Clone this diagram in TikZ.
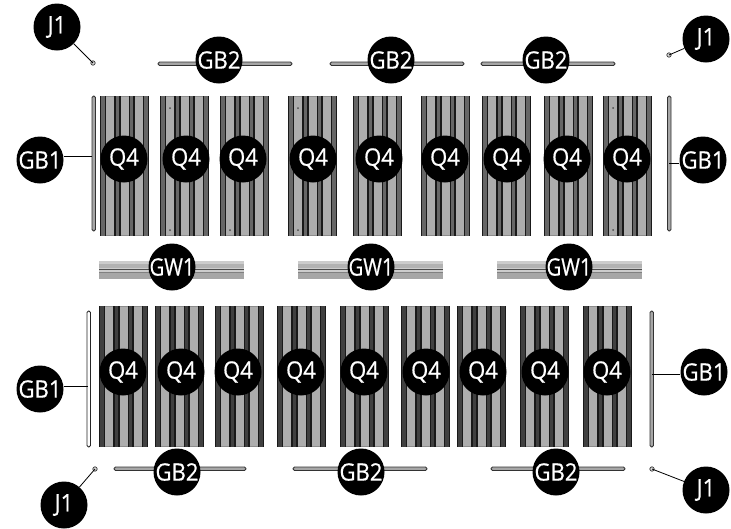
\documentclass[tikz,border=0pt]{standalone}
\usepackage{fontspec}
\newfontfamily\calloutfont{Open Sans}[RawFeature={embolden=0.6},FakeStretch=0.92]
\newfontfamily\railfont{Open Sans}[RawFeature={embolden=0.6},FakeStretch=0.84]
\def\lab#1{\makebox[0pt]{#1}}
\tikzset{
	callout/.style={circle, fill=black, text=white, minimum size=47pt, inner sep=0pt, font=\calloutfont\fontsize{24}{24}\selectfont},
	leader/.style={line width=0.8pt, color=black},
	strip/.style={fill=black!32, draw=none},
	bar/.style={draw=black!80, fill=black!35, line width=0.9pt, rounded corners=1.5pt},
	whitebar/.style={draw=black!85, fill=white, line width=0.9pt, rounded corners=1.5pt},
	screw/.style={draw=black!80, fill=black!15, line width=0.7pt},
}
% one sheet, #1 rib colour, #2 line width, (#3,#4) top left corner, height #5
\def\sheet[#1,#2](#3,#4)(#5){%
	\begin{scope}[shift={(#3,#4)}]
		\fill[black!45] (0, 0) rectangle (49, #5);
		\fill[#1] (15, 0) rectangle (20, #5);
		\fill[#1] (29, 0) rectangle (34, #5);
		\fill[#1] (1, 0) rectangle (6, #5);
		\fill[#1] (43, 0) rectangle (48, #5);
		\fill[strip] (6, 1) rectangle (15, #5-1);
		\fill[strip] (20, 1) rectangle (29, #5-1);
		\fill[strip] (34, 1) rectangle (43, #5-1);
		\foreach \ribx in {0.5, 5.5, 15, 20, 29.5, 34, 43.5, 48.5}
			\draw[black!90, line width=#2] (\ribx, 0) -- (\ribx, #5);
	\end{scope}
}
\begin{document}
\begin{tikzpicture}[x=1pt, y=-1pt]
		%%%%% frame %%%%%
		\useasboundingbox (0, 0) rectangle (731, 528);
		
		%%%%% top sheets %%%%%
		\sheet[black!60,1.3pt](100,96)(140);
		\sheet[black!60,1.3pt](160,96)(140);
		\sheet[black!60,1.3pt](220,96)(140);
		\sheet[black!60,1.3pt](288,96)(140);
		\sheet[black!60,1.3pt](353,96)(140);
		\sheet[black!60,1.3pt](421,96)(140);
		\sheet[black!60,1.3pt](482,96)(140);
		\sheet[black!60,1.3pt](544,96)(140);
		\sheet[black!60,1.3pt](603,96)(140);
		
		%%%%% bottom sheets %%%%%
		\sheet[black!75,1.6pt](99,306)(141);
		\sheet[black!75,1.6pt](155,306)(141);
		\sheet[black!75,1.6pt](215,306)(141);
		\sheet[black!75,1.6pt](277,306)(141);
		\sheet[black!75,1.6pt](340,306)(141);
		\sheet[black!75,1.6pt](401,306)(141);
		\sheet[black!75,1.6pt](457,306)(141);
		\sheet[black!75,1.6pt](520,306)(141);
		\sheet[black!75,1.6pt](583,306)(141);
		
		%%%%% small holes %%%%%
		\fill[black!70] (170, 108) circle (1);
		\fill[black!70] (170, 230) circle (1);
		\fill[black!70] (230, 230) circle (1);
		\fill[black!70] (298, 108) circle (1);
		\fill[black!70] (298, 230) circle (1);
		\fill[black!70] (613, 108) circle (1);
		\fill[black!70] (613, 230) circle (1);
		
		%%%%% GW1 rails %%%%%
		\foreach \railx in {99, 298, 497} {
			\fill[black!20] (\railx, 261) rectangle (\railx+145, 279);
			\fill[black!30] (\railx, 264) rectangle (\railx+145, 268);
			\fill[black!35] (\railx, 273) rectangle (\railx+145, 279);
			\draw[black!70, line width=0.8pt] (\railx, 269) -- (\railx+145, 269);
			\draw[black!50, line width=0.6pt] (\railx, 272.5) -- (\railx+145, 272.5);
		}
		
		%%%%% GB2 bars %%%%%
		\draw[bar] (158, 62) rectangle (292, 65.5);
		\draw[bar] (330, 62) rectangle (464, 65.5);
		\draw[bar] (481, 62) rectangle (615, 65.5);
		\draw[bar] (114, 467) rectangle (246, 470.5);
		\draw[bar] (293, 467) rectangle (427, 470.5);
		\draw[bar] (491, 467) rectangle (625, 470.5);
		
		%%%%% GB1 bars %%%%%
		\draw[bar] (92, 96) rectangle (95.5, 231);
		\draw[bar] (667.5, 96) rectangle (671, 231);
		\draw[whitebar] (87, 311) rectangle (90.5, 447);
		\draw[bar] (650, 311) rectangle (653.5, 447);
		
		%%%%% J1 screws %%%%%
		\coordinate (scrTL) at (93, 63);
		\coordinate (scrTR) at (669, 55);
		\coordinate (scrBL) at (95, 469);
		\coordinate (scrBR) at (652, 469);
		\coordinate (endTL) at (92, 156.7);
		\coordinate (endTR) at (669, 163.5);
		\coordinate (endBL) at (88, 386);
		\coordinate (endBR) at (652, 374);
		\draw[screw] (scrTL) circle (2.2);
		\draw[screw] (scrTR) circle (2.2);
		\draw[screw] (scrBL) circle (2.2);
		\draw[screw] (scrBR) circle (2.2);
		
		%%%%% GB2 and GW1 labels %%%%%
		\node[callout] (gbA) at (219, 60) {\lab{GB2}};
		\node[callout] (gbB) at (391, 60) {\lab{GB2}};
		\node[callout] (gbC) at (546, 60) {\lab{GB2}};
		\node[callout] (gbD) at (177, 472) {\lab{GB2}};
		\node[callout] (gbE) at (361, 472) {\lab{GB2}};
		\node[callout] (gbF) at (556, 472) {\lab{GB2}};
		\node[callout] (gwA) at (172, 267) {\lab{\railfont GW1}};
		\node[callout] (gwB) at (371, 267) {\lab{\railfont GW1}};
		\node[callout] (gwC) at (569, 267) {\lab{\railfont GW1}};
		
		%%%%% Q4 labels %%%%%
		\foreach \qx in {124, 186, 243, 313, 379, 445, 507, 567, 627}
			\node[callout] (qt\qx) at (\qx, 159) {\lab{Q4}};
		\foreach \qx in {123, 181, 238, 301, 364, 426, 483, 545, 607}
			\node[callout] (qb\qx) at (\qx, 372) {\lab{Q4}};
		
		%%%%% GB1 and J1 labels %%%%%
		\node[callout] (gaTL) at (40, 160) {\lab{GB1}};
		\node[callout] (gaTR) at (703, 160) {\lab{GB1}};
		\node[callout] (gaBL) at (40, 389) {\lab{GB1}};
		\node[callout] (gaBR) at (704, 372) {\lab{GB1}};
		\node[callout] (jTL) at (57, 27) {\lab{J1}};
		\node[callout] (jTR) at (706, 39) {\lab{J1}};
		\node[callout] (jBL) at (64, 505) {\lab{J1}};
		\node[callout] (jBR) at (706, 490) {\lab{J1}};
		
		\draw[leader] (jTL) -- (scrTL);
		\draw[leader] (jTR) -- (scrTR);
		\draw[leader] (jBL) -- (scrBL);
		\draw[leader] (jBR) -- (scrBR);
		\draw[leader] (gaTL.east |- endTL) -- (endTL);
		\draw[leader] (gaTR.west |- endTR) -- (endTR);
		\draw[leader] (gaBL.east |- endBL) -- (endBL);
		\draw[leader] (gaBR.west |- endBR) -- (endBR);
\end{tikzpicture}
\end{document}
